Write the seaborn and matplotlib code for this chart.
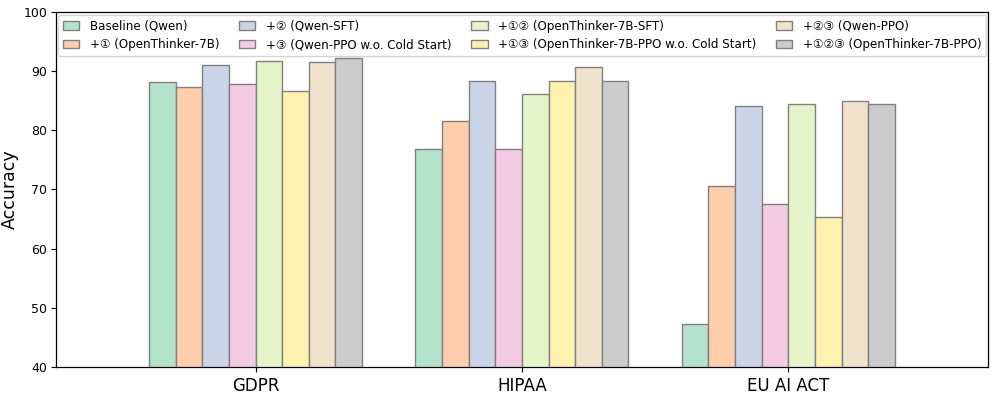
import matplotlib
matplotlib.use("Agg")
import matplotlib.pyplot as plt
import seaborn as sns
import pandas as pd

categories = ["GDPR", "HIPAA", "EU AI ACT"]
methods = [
    "Baseline (Qwen)",
    "+① (OpenThinker-7B)",
    "+② (Qwen-SFT)",
    "+③ (Qwen-PPO w.o. Cold Start)",
    "+①② (OpenThinker-7B-SFT)",
    "+①③ (OpenThinker-7B-PPO w.o. Cold Start)",
    "+②③ (Qwen-PPO)",
    "+①②③ (OpenThinker-7B-PPO)",
]
gdpr = [88.1, 87.3, 91.0, 87.8, 91.7, 86.6, 91.5, 92.2]
hipaa = [76.8, 81.5, 88.4, 76.8, 86.1, 88.4, 90.7, 88.4]
euai = [47.2, 70.6, 84.1, 67.5, 84.4, 65.4, 85.0, 84.4]

rows = []
for cat, vals in zip(categories, [gdpr, hipaa, euai]):
    for m, v in zip(methods, vals):
        rows.append({"Category": cat, "Method": m, "Accuracy": v})
df = pd.DataFrame(rows)

sns.set_style("ticks")
plt.rcParams["font.family"] = ["DejaVu Sans"]
plt.rcParams["text.color"] = "black"
plt.rcParams["axes.labelcolor"] = "black"
plt.rcParams["xtick.color"] = "black"
plt.rcParams["ytick.color"] = "black"

fig, ax = plt.subplots(figsize=(9.95, 3.97), dpi=100)
sns.barplot(data=df, x="Category", y="Accuracy", hue="Method", hue_order=methods,
            order=categories, palette="Pastel2", width=0.8, edgecolor="gray",
            linewidth=1, ax=ax, errorbar=None, saturation=1)
ax.set_ylim(40, 100)
ax.set_xlim(-0.75, 2.75)
ax.set_xlabel("")
ax.set_ylabel("Accuracy", fontsize=12.5, labelpad=3)
ax.tick_params(axis="x", labelsize=12, length=3.5)
ax.tick_params(axis="y", labelsize=9, length=3.5, pad=2.5)
for s in ax.spines.values():
    s.set_visible(True)
    s.set_color("black")
    s.set_linewidth(0.9)
ax.legend(loc="upper left", ncol=4, fontsize=8.6, frameon=True,
          bbox_to_anchor=(0.001, 0.995), borderaxespad=0.1,
          handlelength=1.4, handletextpad=0.9, columnspacing=1.6,
          labelspacing=0.45)
fig.subplots_adjust(left=0.056, right=0.993, top=0.97, bottom=0.076)
fig.savefig("out.png", dpi=100)
